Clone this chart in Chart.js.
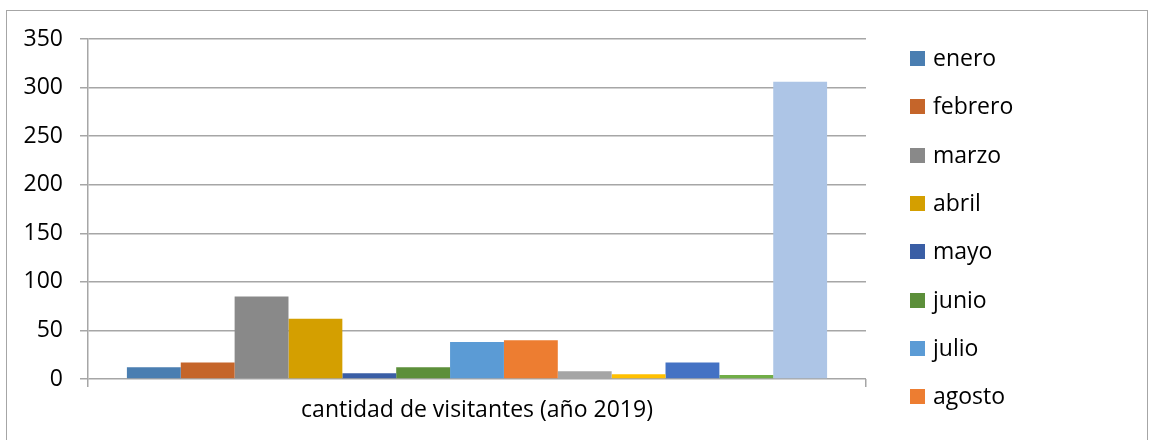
<!DOCTYPE html>
<html>
<head>
<meta charset="utf-8">
<script src="https://cdn.jsdelivr.net/npm/chart.js@4.4.1/dist/chart.umd.min.js"></script>
<style>
  html, body { margin: 0; padding: 0; background: #fff; }
  #wrap { position: relative; width: 1155px; height: 440px; overflow: hidden; }
  #frame { position: absolute; left: 6px; top: 10px; width: 1142px; height: 460px; border: 1px solid #a6a6a6; box-sizing: border-box; }
  canvas { position: absolute; left: 0; top: 0; }
</style>
</head>
<body>
<div id="wrap">
  <div id="frame"></div>
  <canvas id="c" width="1155" height="440"></canvas>
</div>
<script>
const categories = ["cantidad de visitantes (año 2019)"];
const seriesNames = ["enero", "febrero", "marzo", "abril", "mayo", "junio", "julio", "agosto",
                     "septiembre", "octubre", "noviembre", "diciembre", "total"];
const seriesValues = [12, 17, 85, 62, 6, 12, 38, 40, 8, 5, 17, 4, 306];
const seriesColors = ["#4a7eb1", "#c5652a", "#898989", "#d49f00", "#3a5ea5", "#5c8f3a",
                      "#5b9bd5", "#ed7d31", "#a5a5a5", "#ffc000", "#4472c4", "#70ad47", "#adc5e6"];
const yTicks = [0, 50, 100, 150, 200, 250, 300, 350];
const legendShown = 8;

const FONT = "'Open Sans', 'Noto Sans', sans-serif";
const FSIZE = 23;

const datasets = seriesNames.map((name, i) => ({
  label: name,
  data: [seriesValues[i]],
  backgroundColor: seriesColors[i],
  borderWidth: 0,
  categoryPercentage: 0.9,
  barPercentage: 1.0
}));

const legendPlugin = {
  id: 'sideLegend',
  afterDraw(chart) {
    const ctx = chart.ctx;
    ctx.save();
    ctx.font = FSIZE + "px " + FONT;
    ctx.textBaseline = 'middle';
    ctx.textAlign = 'left';
    chart.data.datasets.slice(0, legendShown).forEach((ds, i) => {
      const cy = 58.5 + i * 48.3;
      ctx.fillStyle = ds.backgroundColor;
      ctx.fillRect(910, Math.round(cy - 7.5), 15, 15);
      ctx.fillStyle = '#000';
      ctx.fillText(ds.label, 933, cy + 1);
    });
    ctx.restore();
  }
};

new Chart(document.getElementById('c'), {
  type: 'bar',
  data: { labels: categories, datasets },
  plugins: [legendPlugin],
  options: {
    responsive: false,
    animation: false,
    devicePixelRatio: 1,
    layout: { padding: { top: 39, right: 289, bottom: 0, left: 0 } },
    plugins: { legend: { display: false }, tooltip: { enabled: false } },
    scales: {
      x: {
        offset: true,
        grid: { display: true, drawOnChartArea: false, drawTicks: true, tickLength: 8, color: '#a6a6a6', lineWidth: 1.5 },
        border: { display: false },
        ticks: { color: '#000', font: { family: FONT, size: FSIZE }, padding: 10, maxRotation: 0 },
        afterFit(scale) { scale.height = 61; }
      },
      y: {
        min: 0, max: 350,
        afterBuildTicks(scale) { scale.ticks = yTicks.map(v => ({ value: v })); },
        grid: { color: '#a6a6a6', lineWidth: 1.5, tickLength: 8 },
        border: { display: true, color: '#a6a6a6', width: 1.5 },
        ticks: { color: '#000', font: { family: FONT, size: FSIZE }, padding: 17 },
        afterFit(scale) { scale.width = 88; }
      }
    }
  }
});
</script>
</body>
</html>
